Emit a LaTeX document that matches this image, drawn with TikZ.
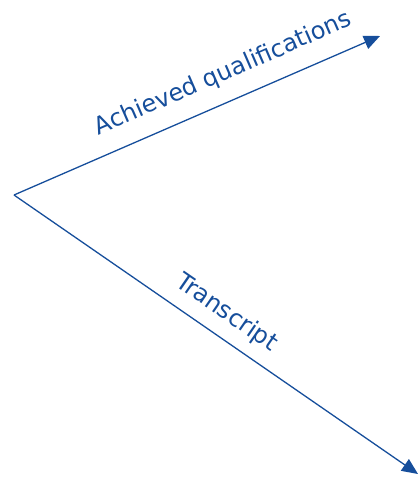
\documentclass[tikz,border=0pt]{standalone}
\usepackage{fontspec}
\setmainfont{DejaVu Sans}
\usetikzlibrary{arrows.meta}
\definecolor{arrowblue}{RGB}{22,78,155}
\tikzset{
  arr/.style={draw=arrowblue, line width=1.3pt, -{Triangle[length=16pt,width=14pt]}},
  lbl/.style={text=arrowblue, font=\fontsize{24}{28}\selectfont, anchor=base, inner sep=0pt}
}
\begin{document}
\begin{tikzpicture}[x=1pt,y=-1pt]
\useasboundingbox (0,0) rectangle (419,480);
\coordinate (o) at (14,195);
\coordinate (a) at (380,36);
\coordinate (b) at (418,474);
\draw[arr] (o) -- (a);
\draw[arr] (o) -- (b);
\node[lbl, rotate=23.5] (qual) at (226,80) {Achieved qualifications};
\node[lbl, rotate=-34.6] (trans) at (222.5,318.5) {Transcript};
\end{tikzpicture}
\end{document}
